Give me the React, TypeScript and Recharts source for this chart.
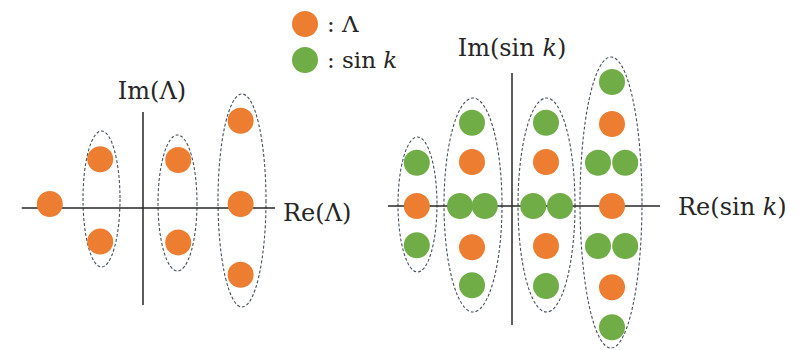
import {
  ScatterChart,
  Scatter,
  XAxis,
  YAxis,
  ReferenceLine,
  ReferenceArea,
  Legend,
} from "recharts";

type Pt = { x: number; y: number };
type Group = { x1: number; x2: number; y1: number; y2: number };

const ORANGE = "#ED7D31";
const GREEN = "#70AD47";
const INK = "#262626";
const FONT = "'DejaVu Serif', serif";

const seriesNames = ["Λ", "sin k"];

// left plane: Λ
const lambdaLeft: Pt[] = [
  { x: -2.33, y: 0.1 },
  { x: -1.07, y: 1.22 },
  { x: -1.07, y: -0.84 },
  { x: 0.88, y: 1.2 },
  { x: 0.88, y: -0.86 },
  { x: 2.44, y: 2.18 },
  { x: 2.44, y: 0.1 },
  { x: 2.44, y: -1.67 },
];

const groupsLeft: Group[] = [
  { x1: -1.5, x2: -0.575, y1: -1.475, y2: 1.925 },
  { x1: 0.375, x2: 1.35, y1: -1.575, y2: 1.825 },
  { x1: 1.875, x2: 3.075, y1: -2.475, y2: 2.85 },
];

// right plane: Λ and sin k
const lambdaRight: Pt[] = [
  { x: -2.38, y: 0 },
  { x: -1.0, y: 1.1 },
  { x: -1.0, y: -1.03 },
  { x: 0.85, y: 1.1 },
  { x: 0.85, y: -1.0 },
  { x: 2.5, y: 2.05 },
  { x: 2.5, y: 0 },
  { x: 2.5, y: -2.03 },
];

const sinKRight: Pt[] = [
  { x: -2.38, y: 1.08 },
  { x: -2.38, y: -0.98 },
  { x: -1.0, y: 2.08 },
  { x: -1.3, y: 0 },
  { x: -0.68, y: 0 },
  { x: -1.0, y: -1.98 },
  { x: 0.85, y: 2.08 },
  { x: 0.53, y: 0 },
  { x: 1.2, y: 0 },
  { x: 0.85, y: -2.0 },
  { x: 2.5, y: 3.1 },
  { x: 2.15, y: 1.08 },
  { x: 2.83, y: 1.08 },
  { x: 2.15, y: -1.0 },
  { x: 2.83, y: -1.0 },
  { x: 2.5, y: -3.03 },
];

const groupsRight: Group[] = [
  { x1: -2.85, x2: -1.875, y1: -1.65, y2: 1.725 },
  { x1: -1.7, x2: -0.25, y1: -2.65, y2: 2.7 },
  { x1: 0.15, x2: 1.575, y1: -2.65, y2: 2.7 },
  { x1: 1.7, x2: 3.25, y1: -3.55, y2: 3.725 },
];

const dot = (color: string) => (p: any) =>
  <circle cx={p.cx} cy={p.cy} r={13} fill={color} />;

const dashedEllipse = (p: any) => (
  <ellipse
    cx={p.x + p.width / 2}
    cy={p.y + p.height / 2}
    rx={Math.abs(p.width) / 2}
    ry={Math.abs(p.height) / 2}
    fill="none"
    stroke="#44505f"
    strokeWidth={1.1}
    strokeDasharray="3 2"
  />
);

function AxisLabel({ viewBox, dx, dy, anchor, children }: any) {
  if (!viewBox) return null;
  const horizontal = anchor === "start";
  const x = horizontal ? viewBox.x + viewBox.width + dx : viewBox.x + dx;
  const y = viewBox.y + dy;
  return (
    <text
      x={x}
      y={y}
      textAnchor={anchor}
      dominantBaseline="central"
      fontFamily={FONT}
      fontSize={24}
      fill={INK}
    >
      {children}
    </text>
  );
}

const italicK = <tspan fontStyle="italic">k</tspan>;

function KeyContent({ payload }: any) {
  const items = (payload || [])
    .filter((p: any) => p.type !== "none")
    .sort(
      (a: any, b: any) =>
        seriesNames.indexOf(a.value) - seriesNames.indexOf(b.value)
    );
  return (
    <div style={{ fontFamily: FONT, fontSize: 23, color: INK }}>
      {items.map((p: any) => (
        <div
          key={p.value}
          style={{ display: "flex", alignItems: "center", height: 36 }}
        >
          <svg width={26} height={26}>
            <circle cx={13} cy={13} r={13} fill={p.color} />
          </svg>
          <span style={{ marginLeft: 9 }}>
            :{" "}
            {p.value === "sin k" ? (
              <>
                sin <i>k</i>
              </>
            ) : (
              p.value
            )}
          </span>
        </div>
      ))}
    </div>
  );
}

export default function App() {
  return (
    <div
      style={{
        position: "absolute",
        left: 0,
        top: 0,
        width: 810,
        height: 350,
        background: "#fff",
      }}
    >
      <ScatterChart
        width={810}
        height={350}
        margin={{ top: 0, right: 0, bottom: 0, left: 0 }}
      >
        <XAxis xAxisId="l" type="number" dataKey="x" domain={[-3.575, 16.675]} hide allowDataOverflow />
        <YAxis yAxisId="l" type="number" dataKey="y" domain={[-3.55, 5.2]} hide allowDataOverflow />
        <XAxis xAxisId="r" type="number" dataKey="x" domain={[-12.8, 7.45]} hide allowDataOverflow />
        <YAxis yAxisId="r" type="number" dataKey="y" domain={[-3.6, 5.15]} hide allowDataOverflow />

        {groupsLeft.map((g, i) => (
          <ReferenceArea key={"gl" + i} xAxisId="l" yAxisId="l" {...g} shape={dashedEllipse} ifOverflow="visible" />
        ))}
        {groupsRight.map((g, i) => (
          <ReferenceArea key={"gr" + i} xAxisId="r" yAxisId="r" {...g} shape={dashedEllipse} ifOverflow="visible" />
        ))}

        <ReferenceLine
          xAxisId="l"
          yAxisId="l"
          segment={[{ x: -3.03, y: 0 }, { x: 3.3, y: 0 }]}
          stroke={INK}
          strokeWidth={1.5}
          ifOverflow="visible"
          label={<AxisLabel dx={8} dy={5} anchor="start">Re(Λ)</AxisLabel>}
        />
        <ReferenceLine
          xAxisId="l"
          yAxisId="l"
          segment={[{ x: 0, y: -2.425 }, { x: 0, y: 2.4 }]}
          stroke={INK}
          strokeWidth={1.5}
          ifOverflow="visible"
          label={<AxisLabel dx={9} dy={-21} anchor="middle">Im(Λ)</AxisLabel>}
        />
        <ReferenceLine
          xAxisId="r"
          yAxisId="r"
          segment={[{ x: -3.1, y: 0 }, { x: 3.7, y: 0 }]}
          stroke={INK}
          strokeWidth={1.5}
          ifOverflow="visible"
          label={<AxisLabel dx={18} dy={1} anchor="start">Re(sin {italicK})</AxisLabel>}
        />
        <ReferenceLine
          xAxisId="r"
          yAxisId="r"
          segment={[{ x: 0, y: -2.975 }, { x: 0, y: 3.325 }]}
          stroke={INK}
          strokeWidth={1.5}
          ifOverflow="visible"
          label={<AxisLabel dx={0} dy={-25} anchor="middle">Im(sin {italicK})</AxisLabel>}
        />

        <Scatter name="Λ" data={lambdaLeft} xAxisId="l" yAxisId="l" fill={ORANGE} shape={dot(ORANGE)} isAnimationActive={false} />
        <Scatter name="Λ" data={lambdaRight} xAxisId="r" yAxisId="r" fill={ORANGE} shape={dot(ORANGE)} legendType="none" isAnimationActive={false} />
        <Scatter name="sin k" data={sinKRight} xAxisId="r" yAxisId="r" fill={GREEN} shape={dot(GREEN)} isAnimationActive={false} />

        <Legend
          layout="horizontal"
          verticalAlign="middle"
          align="center"
          content={<KeyContent />}
          wrapperStyle={{ left: 292, top: 6, width: 200 }}
        />
      </ScatterChart>
    </div>
  );
}
